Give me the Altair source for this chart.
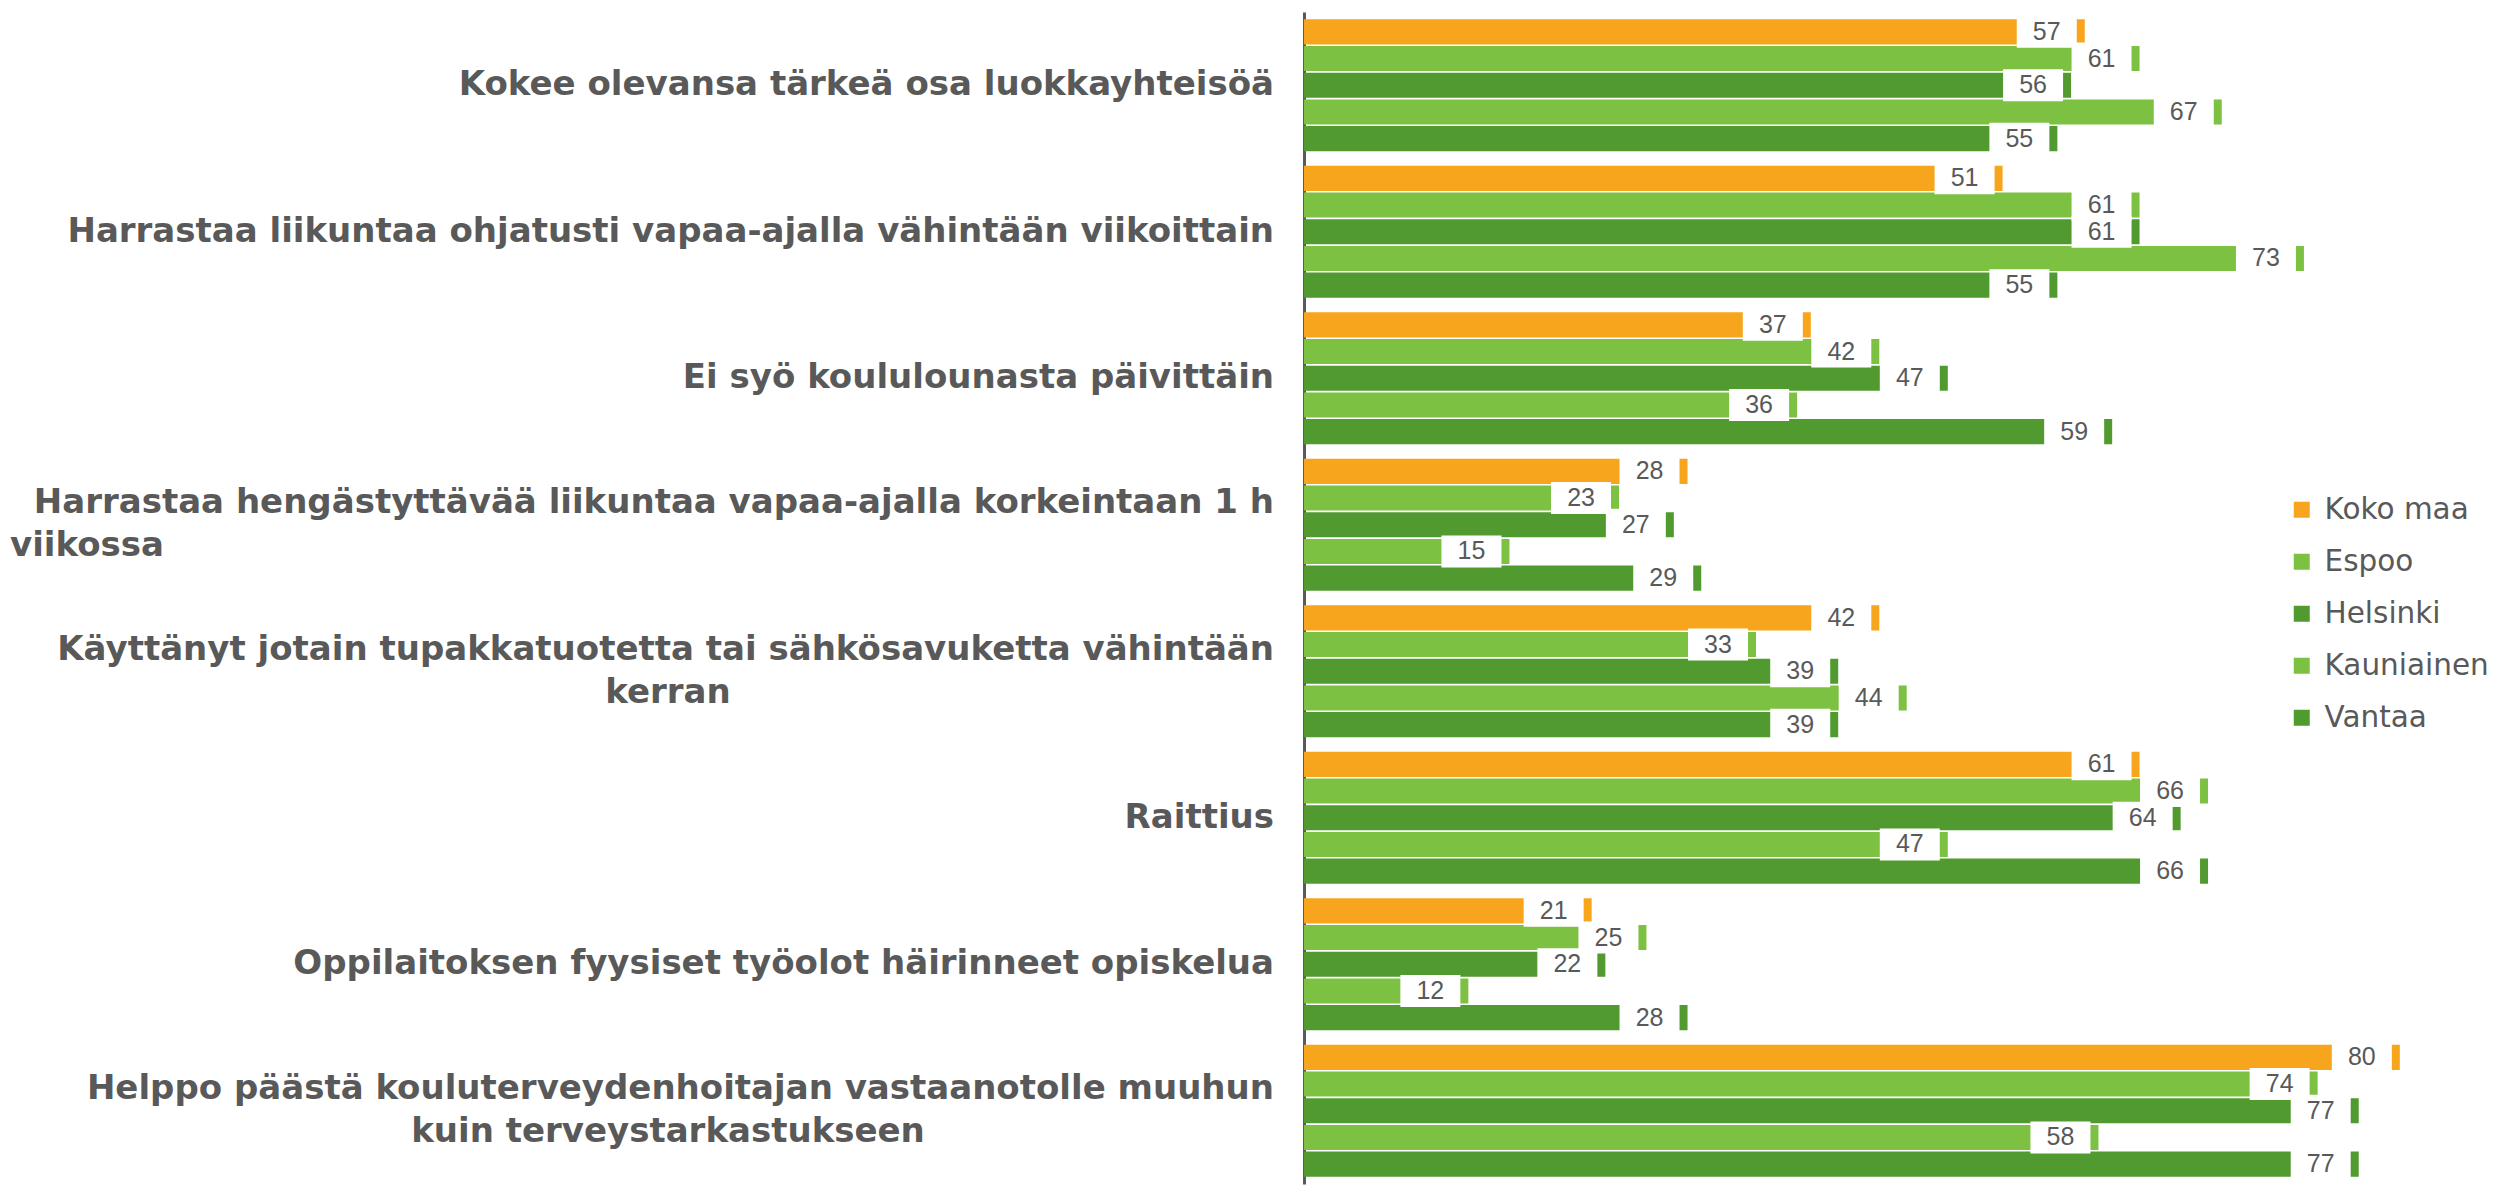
import altair as alt
import pandas as pd

categories = [
    "Kokee olevansa tärkeä osa luokkayhteisöä",
    "Harrastaa liikuntaa ohjatusti vapaa-ajalla vähintään viikoittain",
    "Ei syö koululounasta päivittäin",
    "Harrastaa hengästyttävää liikuntaa vapaa-ajalla korkeintaan 1 h viikossa",
    "Käyttänyt jotain tupakkatuotetta tai sähkösavuketta vähintään kerran",
    "Raittius",
    "Oppilaitoksen fyysiset työolot häirinneet opiskelua",
    "Helppo päästä kouluterveydenhoitajan vastaanotolle muuhun kuin terveystarkastukseen",
]
label_line1 = [
    "Kokee olevansa tärkeä osa luokkayhteisöä",
    "Harrastaa liikuntaa ohjatusti vapaa-ajalla vähintään viikoittain",
    "Ei syö koululounasta päivittäin",
    "Harrastaa hengästyttävää liikuntaa vapaa-ajalla korkeintaan 1 h",
    "Käyttänyt jotain tupakkatuotetta tai sähkösavuketta vähintään",
    "Raittius",
    "Oppilaitoksen fyysiset työolot häirinneet opiskelua",
    "Helppo päästä kouluterveydenhoitajan vastaanotolle muuhun",
]
label_line2 = ["", "", "", "viikossa", "kerran", "", "", "kuin terveystarkastukseen"]
line2_align = ["", "", "", "left", "center", "", "", "center"]

series = ["Koko maa", "Espoo", "Helsinki", "Kauniainen", "Vantaa"]
koko_maa = [57, 51, 37, 28, 42, 61, 21, 80]
espoo = [61, 61, 42, 23, 33, 66, 25, 74]
helsinki = [56, 61, 47, 27, 39, 64, 22, 77]
kauniainen = [67, 73, 36, 15, 44, 47, 12, 58]
vantaa = [55, 55, 59, 29, 39, 66, 28, 77]
colors = ["#F7A51C", "#7CC142", "#509A2F", "#7CC142", "#509A2F"]

rows = []
for i, c in enumerate(categories):
    for s, vals in zip(series, [koko_maa, espoo, helsinki, kauniainen, vantaa]):
        rows.append({"cat": c, "series": s, "value": vals[i]})
df = pd.DataFrame(rows)
lab = pd.DataFrame({"cat": categories, "line1": label_line1,
                    "line2": label_line2, "align2": line2_align})

GRAY = "#595959"

y = alt.Y("cat:N", sort=categories,
          scale=alt.Scale(paddingInner=0.1, paddingOuter=0.05),
          axis=alt.Axis(labels=False, ticks=False, title=None, grid=False,
                        domainColor=GRAY, domainWidth=3))
yoff = alt.YOffset("series:N", sort=series, scale=alt.Scale(paddingInner=0.06))
x = alt.X("value:Q", scale=alt.Scale(domain=[0, 86], nice=False, zero=True), axis=None)

bars = alt.Chart(df).mark_bar().encode(
    x=x, y=y, yOffset=yoff,
    color=alt.Color("series:N", sort=series,
                    scale=alt.Scale(domain=series, range=colors),
                    legend=alt.Legend(title=None, orient="none", legendX=983, legendY=483,
                                      symbolType="square", symbolSize=256,
                                      symbolStrokeWidth=0, labelFont="DejaVu Sans",
                                      labelFontSize=29.5, labelColor=GRAY, labelLimit=400,
                                      rowPadding=21, labelOffset=8, padding=0)),
)

boxes = alt.Chart(df).mark_bar(color="white", size=32, xOffset=-68, x2Offset=-8).encode(
    x=x, x2="value:Q", y=y, yOffset=yoff
)

vals = alt.Chart(df).mark_text(xOffset=-38, font="Liberation Sans", fontSize=25,
                               color=GRAY, align="center", baseline="middle").encode(
    x=x, y=y, yOffset=yoff, text="value:Q"
)

lab_style = dict(font="DejaVu Sans", fontWeight="bold", fontSize=34, color=GRAY,
                 baseline="middle")
single = alt.Chart(lab).transform_filter("datum.line2 == ''").mark_text(
    align="right", **lab_style).encode(x=alt.value(-30), y=y, text="line1:N")
first = alt.Chart(lab).transform_filter("datum.line2 != ''").mark_text(
    align="right", dy=-21.5, **lab_style).encode(x=alt.value(-30), y=y, text="line1:N")
second_c = alt.Chart(lab).transform_filter("datum.align2 == 'center'").mark_text(
    align="center", dy=21.5, **lab_style).encode(x=alt.value(-636), y=y, text="line2:N")
second_l = alt.Chart(lab).transform_filter("datum.align2 == 'left'").mark_text(
    align="left", dy=21.5, **lab_style).encode(x=alt.value(-1294), y=y, text="line2:N")

chart = alt.layer(bars, boxes, vals, single, first, second_c, second_l).properties(
    width=1178, height=1172,
    autosize=alt.AutoSizeParams(type="none"),
    padding={"left": 1296, "top": 4, "right": 12, "bottom": 3},
).configure_view(stroke=None)

chart.save("out.html", embed_options={"renderer": "svg", "actions": False})
